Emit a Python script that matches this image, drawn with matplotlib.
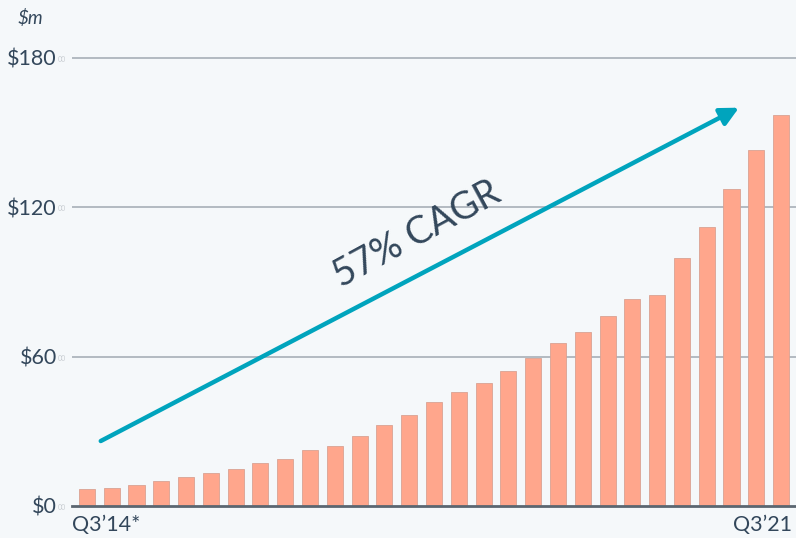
import matplotlib.pyplot as plt

# quarterly values, $m (Q3'14 .. Q3'21)
quarters = list(range(29))
values = [6.8, 7.4, 8.6, 10.0, 11.8, 13.4, 15.0, 17.3, 19.0, 22.3, 24.3, 28.3,
          32.7, 36.6, 41.6, 45.6, 49.6, 54.4, 59.5, 65.5, 69.9, 76.5, 83.2,
          84.8, 99.6, 112.1, 127.4, 142.9, 157.1]
y_ticks = [0, 60, 120, 180]
y_labels = ['$0', '$60', '$120', '$180']
first_label = 'Q3\u201914*'
last_label = 'Q3\u201921'
cagr_text = '57% CAGR'
arrow_start = (0.56, 26.1)
arrow_end = (26.3, 160.0)

bg = '#F5F8FA'
text_col = '#33475B'
bar_col = '#FFA68C'
teal = '#00A4BD'

plt.rcParams['font.family'] = ['Lato', 'DejaVu Sans']

fig = plt.figure(figsize=(7.96, 5.38), dpi=100, facecolor=bg)
ax = fig.add_axes([72 / 796, 32 / 538, 1 - 72 / 796, (506 - 30) / 538])
ax.set_facecolor(bg)

ax.bar(quarters, values, width=0.65, color=bar_col, edgecolor='#D9A293',
       linewidth=0.6, zorder=3)

ax.set_xlim(-0.6, 28.6)
ax.set_ylim(0, 191.2)

for t in y_ticks[1:]:
    ax.axhline(t, color='#B3BAC1', linewidth=1.4, zorder=1)

for s in ['top', 'right', 'left']:
    ax.spines[s].set_visible(False)
ax.spines['bottom'].set_color('#5B6670')
ax.spines['bottom'].set_linewidth(2)
ax.spines['bottom'].set_zorder(4)

ax.set_yticks(y_ticks)
ax.set_yticklabels(y_labels, fontsize=15.5, color=text_col)
ax.tick_params(axis='y', length=0, pad=11)
for t in y_ticks:
    ax.annotate('00', xy=(0, t), xycoords=('axes fraction', 'data'),
                xytext=(-10, -1), textcoords='offset points', fontsize=5,
                color='#C8CDD2', ha='left', va='center')

ax.set_xticks([])
ax.text(-0.6, -3.6, first_label, fontsize=15.5, color=text_col,
        ha='left', va='top')
ax.text(28.45, -3.6, last_label, fontsize=15.5, color=text_col,
        ha='right', va='top')

fig.text(18 / 796, 1 - 18 / 538, '$m', fontsize=13.5, style='italic',
         color=text_col, ha='left', va='center')

ax.annotate('', xy=arrow_end, xytext=arrow_start,
            arrowprops=dict(arrowstyle='-|>,head_length=1.1,head_width=0.55',
                            color=teal, lw=3.2, shrinkA=0, shrinkB=0),
            zorder=5, annotation_clip=False)

ax.text(13.3, 109, cagr_text, fontsize=27, color=text_col, rotation=28.5,
        ha='center', va='center', rotation_mode='anchor')

fig.savefig('out.png', dpi=100, facecolor=bg)
